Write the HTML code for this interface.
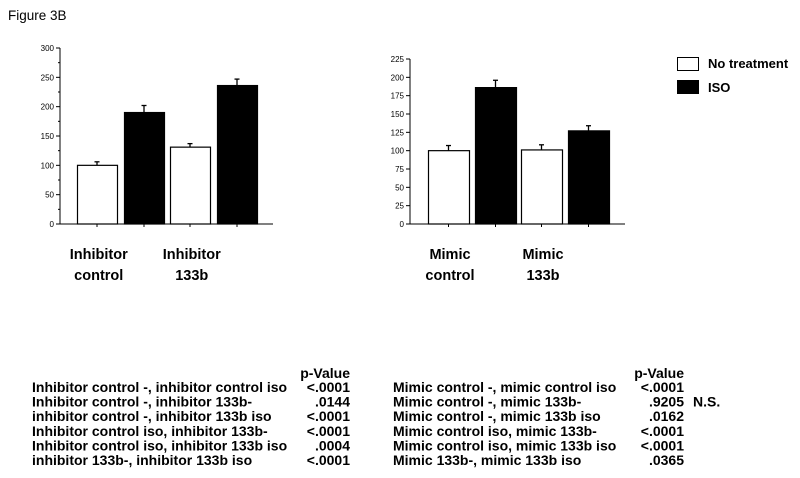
<!DOCTYPE html>
<html><head><meta charset="utf-8"><style>
html,body{margin:0;padding:0;background:#fff;}
svg{display:block;font-family:"Liberation Sans",Arial,sans-serif;}
</style></head><body>
<svg id="fig" width="800" height="478" viewBox="0 0 800 478">
<text x="8" y="20" font-size="13.5">Figure 3B</text>
<g id="chartL"></g>
<g id="chartR"></g>
<g>
 <g><rect x="677.5" y="57.5" width="21" height="13" fill="#fff" stroke="#000"/><text x="708" y="68" font-size="13" font-weight="bold">No treatment</text></g>
 <g><rect x="677.5" y="80.5" width="21" height="13" fill="#000" stroke="#000"/><text x="708" y="92" font-size="13" font-weight="bold">ISO</text></g>
</g>
<g id="tables" font-weight="bold" font-size="14"></g>
</svg>
<script>
const NS="http://www.w3.org/2000/svg";
const leftCats=["Inhibitor control","Inhibitor 133b"];
const leftNoTreat=[100,131];
const leftIso=[190,236];
const leftNoTreatErr=[6,6];
const leftIsoErr=[12,11];
const leftTicks=[0,50,100,150,200,250,300];
const rightCats=["Mimic control","Mimic 133b"];
const rightNoTreat=[100,101];
const rightIso=[186,127];
const rightNoTreatErr=[7,7];
const rightIsoErr=[10,7];
const rightTicks=[0,25,50,75,100,125,150,175,200,225];
const leftRows=["Inhibitor control -, inhibitor control iso","Inhibitor control -, inhibitor 133b-","inhibitor control -, inhibitor 133b iso","Inhibitor control iso, inhibitor 133b-","Inhibitor control iso, inhibitor 133b iso","inhibitor 133b-, inhibitor 133b iso"];
const leftP=["<.0001",".0144","<.0001","<.0001",".0004","<.0001"];
const rightRows=["Mimic control -, mimic control iso","Mimic control -, mimic 133b-","Mimic control -, mimic 133b iso","Mimic control iso, mimic 133b-","Mimic control iso, mimic 133b iso","Mimic 133b-, mimic 133b iso"];
const rightP=["<.0001",".9205",".0162","<.0001","<.0001",".0365"];
const rightNote=["","N.S.","","","",""];

function mk(tag,attrs,parent){const e=document.createElementNS(NS,tag);for(const k in attrs)e.setAttribute(k,attrs[k]);parent.appendChild(e);return e;}

function chart(g,o){
  const y=v=>o.y0-(v/o.max)*(o.y0-o.yTop);
  const ya=mk("line",{x1:o.ax,y1:o.yTop,x2:o.ax,y2:o.y0,stroke:"#000","stroke-width":1},g);
  
  
  const xa=mk("line",{x1:o.ax-3,y1:o.y0,x2:o.axEnd,y2:o.y0,stroke:"#000","stroke-width":1},g);
  
  
  const step=o.ticks[1]-o.ticks[0];
  o.ticks.forEach((t,i)=>{
    mk("line",{x1:o.ax-4,y1:y(t),x2:o.ax,y2:y(t),stroke:"#000"},g);
    if(i<o.ticks.length-1&&o.minor) mk("line",{x1:o.ax-2,y1:y(t+step/2),x2:o.ax,y2:y(t+step/2),stroke:"#000"},g);
    const tx=mk("text",{x:o.ax-6,y:y(t)+3,"font-size":"8","text-anchor":"end"},g);
    tx.textContent=t;
    
    
  });
  const gw=o.groupW, bw=o.barW;
  o.cats.forEach((c,i)=>{
    const gx=o.start+i*gw;
    [[o.a,o.ae,"#fff",0],[o.b,o.be,"#000",1]].forEach(([vals,errs,fill,j])=>{
      const bx=gx+j*o.pair;
      const v=vals[i], top=y(v);
      const ex=bx+bw/2, et=y(v+errs[i]);
      const el=mk("line",{x1:ex,y1:top,x2:ex,y2:et,stroke:"#000","stroke-width":1.3},g);
      
      
      mk("line",{x1:ex-2.5,y1:et,x2:ex+2.5,y2:et,stroke:"#000","stroke-width":1.3},g);
      const r=mk("rect",{x:bx+0.5,y:top,width:bw,height:o.y0-top,fill:fill,stroke:"#000","stroke-width":1.2},g);
      
      
      mk("line",{x1:ex,y1:o.y0,x2:ex,y2:o.y0+3,stroke:"#000"},g);
    });
    const words=c.split(" ");
    const cx=gx+(o.pair+bw)/2 - (o.pair+bw)/4;
    words.forEach((w,k)=>{
      const t=mk("text",{x:cx,y:o.y0+35+k*21,"font-size":"14.5","font-weight":"bold","text-anchor":"middle"},g);
      t.textContent=w;
      
      
    });
  });
}
chart(document.getElementById("chartL"),{ax:60,axEnd:273,y0:224,yTop:48,max:300,ticks:leftTicks,minor:true,cats:leftCats,a:leftNoTreat,b:leftIso,ae:leftNoTreatErr,be:leftIsoErr,start:77,groupW:93,pair:47,barW:40});
chart(document.getElementById("chartR"),{ax:410,axEnd:625,y0:224,yTop:59,max:225,ticks:rightTicks,minor:false,cats:rightCats,a:rightNoTreat,b:rightIso,ae:rightNoTreatErr,be:rightIsoErr,start:428,groupW:93,pair:47,barW:41});

const T=document.getElementById("tables");
function table(lx,px,rows,ps,notes){
  const g=mk("g",{},T);
  const h=mk("text",{x:px,y:378,"text-anchor":"end"},g);h.textContent="p-Value";
  
  
  rows.forEach((r,i)=>{
    const yy=392+i*14.6;
    const a=mk("text",{x:lx,y:yy},g);a.textContent=r;
    
    
    const b=mk("text",{x:px,y:yy,"text-anchor":"end"},g);b.textContent=ps[i];
    
    
    if(notes&&notes[i]){const n=mk("text",{x:px+9,y:yy},g);n.textContent=notes[i];
      
      }
  });
}
table(32,350,leftRows,leftP,null);
table(393,684,rightRows,rightP,rightNote);
</script>
</body></html>
